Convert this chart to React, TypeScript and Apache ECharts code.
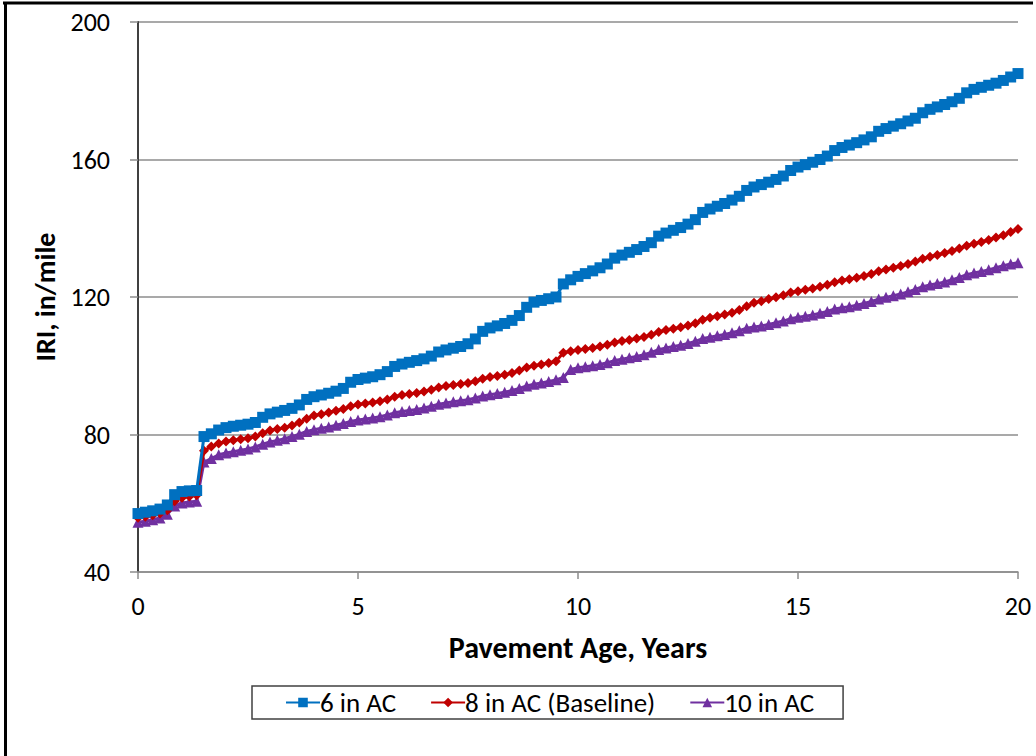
import React, { useEffect, useRef } from "react";
import * as echarts from "echarts";

// Pavement age samples: every 2 months, 0..20 years
const AGES: number[] = Array.from({ length: 121 }, (_, i) => i / 6);

const X_TICKS = [0, 5, 10, 15, 20];
const Y_TICKS = [40, 80, 120, 160, 200];

// IRI (in/mile), one row per year (6 bimonthly values), final value at 20 years
const IRI_6IN: number[] = [
  57.0, 57.4, 57.8, 58.3, 59.5, 62.5,
  63.4, 63.6, 63.7, 79.4, 80.2, 81.3,
  82.0, 82.4, 82.7, 83.0, 83.5, 85.0,
  86.0, 86.5, 87.0, 87.6, 88.6, 90.2,
  91.0, 91.5, 92.0, 92.6, 93.4, 95.2,
  96.0, 96.4, 96.8, 97.4, 98.3, 99.8,
  100.5, 101.0, 101.5, 102.0, 102.8, 104.0,
  104.6, 105.1, 105.6, 106.4, 107.8, 110.0,
  111.0, 111.6, 112.3, 113.2, 114.6, 117.0,
  118.5, 119.0, 119.5, 120.0, 123.8, 125.0,
  126.0, 126.8, 127.6, 128.5, 129.6, 131.3,
  132.2, 133.0, 133.8, 134.7, 135.8, 137.7,
  138.6, 139.4, 140.2, 141.2, 142.5, 144.6,
  145.6, 146.4, 147.2, 148.2, 149.3, 151.0,
  152.0, 152.7, 153.4, 154.2, 155.2, 156.8,
  157.8, 158.5, 159.2, 160.0, 161.0, 162.6,
  163.5, 164.2, 164.9, 165.7, 166.6, 168.2,
  169.0, 169.7, 170.4, 171.2, 172.0, 173.6,
  174.6, 175.3, 176.0, 176.8, 177.8, 179.4,
  180.4, 181.0, 181.6, 182.2, 183.0, 184.0,
  185.0,
];

const IRI_8IN: number[] = [
  55.8, 56.1, 56.5, 57.0, 58.0, 60.6,
  61.6, 62.0, 62.3, 75.3, 76.5, 77.4,
  78.0, 78.3, 78.6, 78.9, 79.4, 80.4,
  81.2, 81.6, 82.0, 82.6, 83.5, 84.6,
  85.5, 85.9, 86.4, 86.9, 87.4, 88.2,
  88.7, 89.0, 89.3, 89.7, 90.2, 91.0,
  91.5, 91.8, 92.1, 92.5, 93.0, 93.7,
  94.1, 94.4, 94.7, 95.0, 95.5, 96.2,
  96.7, 97.0, 97.4, 97.9, 98.6, 99.5,
  100.0, 100.4, 100.8, 101.3, 103.8, 104.2,
  104.6, 104.9, 105.2, 105.6, 106.1, 106.8,
  107.2, 107.5, 107.9, 108.4, 109.0, 109.8,
  110.4, 110.8, 111.2, 111.7, 112.4, 113.4,
  114.0, 114.4, 114.9, 115.4, 116.2, 117.3,
  118.3, 118.8, 119.4, 119.9, 120.5, 121.3,
  121.7, 122.1, 122.5, 123.0, 123.6, 124.3,
  124.8, 125.2, 125.6, 126.1, 126.7, 127.5,
  128.0, 128.5, 129.0, 129.6, 130.3, 131.1,
  131.7, 132.2, 132.8, 133.4, 134.1, 134.9,
  135.5, 136.0, 136.6, 137.3, 138.0, 138.9,
  139.8,
];

const IRI_10IN: number[] = [
  54.5, 54.8, 55.2, 55.7, 56.8, 59.2,
  60.1, 60.4, 60.6, 72.0, 73.0, 74.1,
  74.6, 75.0, 75.4, 75.8, 76.4, 77.2,
  77.8, 78.3, 78.8, 79.4, 80.1, 80.9,
  81.4, 81.8, 82.2, 82.7, 83.2, 83.8,
  84.2, 84.5, 84.8, 85.2, 85.7, 86.3,
  86.7, 87.0, 87.3, 87.7, 88.2, 88.8,
  89.2, 89.5, 89.8, 90.1, 90.6, 91.2,
  91.6, 91.9, 92.3, 92.8, 93.4, 94.1,
  94.6, 95.0, 95.4, 95.9, 96.6, 98.9,
  99.4, 99.7, 100.0, 100.4, 100.9, 101.5,
  101.9, 102.3, 102.7, 103.2, 103.9, 104.7,
  105.2, 105.6, 106.0, 106.5, 107.1, 107.9,
  108.3, 108.7, 109.1, 109.6, 110.2, 110.9,
  111.3, 111.6, 112.0, 112.5, 113.0, 113.7,
  114.1, 114.4, 114.8, 115.3, 115.8, 116.5,
  116.9, 117.2, 117.6, 118.1, 118.7, 119.4,
  119.9, 120.4, 120.9, 121.5, 122.2, 123.0,
  123.5, 123.9, 124.4, 125.0, 125.7, 126.5,
  127.0, 127.4, 127.9, 128.5, 129.1, 129.6,
  130.0,
];

const SERIES_NAMES = ["6 in AC", "8 in AC (Baseline)", "10 in AC"];
const FONT = "Carlito, 'Noto Sans', 'Open Sans', sans-serif";

export default function App() {
  const ref = useRef<HTMLDivElement>(null);

  useEffect(() => {
    if (!ref.current) return;
    const chart = echarts.init(ref.current, null, { renderer: "svg" });
    const pair = (vals: number[]) => vals.map((v, i) => [AGES[i], v]);

    chart.setOption({
      animation: false,
      backgroundColor: "#ffffff",
      textStyle: { fontFamily: FONT },
      grid: { left: 138, right: 18, top: 22, bottom: 184, containLabel: false },
      xAxis: {
        type: "value",
        min: X_TICKS[0],
        max: X_TICKS[X_TICKS.length - 1],
        interval: 5,
        name: "Pavement Age, Years",
        nameLocation: "middle",
        nameGap: 60,
        nameTextStyle: { fontSize: 30, fontWeight: "bold", color: "#000", fontFamily: FONT },
        axisLine: { show: true, lineStyle: { color: "#8c8c8c", width: 1.5 } },
        axisTick: { show: true, inside: false, length: 7, lineStyle: { color: "#8c8c8c", width: 1.5 } },
        axisLabel: { fontSize: 26, color: "#000", margin: 21, fontFamily: FONT },
        splitLine: { show: false },
      },
      yAxis: [
        {
          type: "value",
          min: Y_TICKS[0],
          max: Y_TICKS[Y_TICKS.length - 1],
          interval: 40,
          name: "IRI, in/mile",
          nameLocation: "middle",
          nameGap: 78,
          nameTextStyle: { fontSize: 28, fontWeight: "bold", color: "#000", fontFamily: FONT },
          axisLine: { show: true, onZero: false, lineStyle: { color: "#8c8c8c", width: 1.5 } },
          axisTick: { show: true, inside: false, length: 8, lineStyle: { color: "#8c8c8c", width: 1.5 } },
          axisLabel: { fontSize: 26, color: "#000", margin: 28, fontFamily: FONT },
          splitLine: { show: true, lineStyle: { color: "#8c8c8c", width: 1.5 } },
        },
        {
          type: "value",
          position: "right",
          min: Y_TICKS[0],
          max: Y_TICKS[Y_TICKS.length - 1],
          interval: 40,
          axisLine: { show: true, lineStyle: { color: "#404040", width: 2 } },
          axisTick: { show: false },
          axisLabel: { show: false },
          splitLine: { show: false },
        },
      ],
      legend: {
        data: SERIES_NAMES,
        left: 252,
        top: 686,
        orient: "horizontal",
        borderColor: "#404040",
        borderWidth: 1.5,
        padding: [3, 29, 3, 33],
        itemGap: 34,
        itemWidth: 34,
        itemHeight: 12,
        textStyle: { fontSize: 27, color: "#000", fontFamily: FONT, padding: [0, 0, 0, -5] },
      },
      graphic: [
        { type: "line", shape: { x1: 3, y1: 3, x2: 1033, y2: 3 }, style: { stroke: "#000", lineWidth: 3 } },
        { type: "line", shape: { x1: 5.5, y1: 2, x2: 5.5, y2: 756 }, style: { stroke: "#000", lineWidth: 3 } },
      ],
      series: [
        {
          name: SERIES_NAMES[0],
          type: "line",
          data: pair(IRI_6IN),
          symbol: "rect",
          symbolSize: 11,
          showAllSymbol: true,
          itemStyle: { color: "#0070C0" },
          lineStyle: { color: "#0070C0", width: 3 },
          z: 4,
        },
        {
          name: SERIES_NAMES[1],
          type: "line",
          data: pair(IRI_8IN),
          symbol: "diamond",
          symbolSize: 10,
          showAllSymbol: true,
          itemStyle: { color: "#C00000" },
          lineStyle: { color: "#C00000", width: 3 },
          z: 3,
        },
        {
          name: SERIES_NAMES[2],
          type: "line",
          data: pair(IRI_10IN),
          symbol: "triangle",
          symbolSize: 11,
          showAllSymbol: true,
          itemStyle: { color: "#7030A0" },
          lineStyle: { color: "#7030A0", width: 3 },
          z: 2,
        },
      ],
    });

    return () => chart.dispose();
  }, []);

  return (
    <div
      ref={ref}
      style={{ position: "fixed", left: 0, top: 0, width: 1036, height: 756, background: "#fff" }}
    />
  );
}
